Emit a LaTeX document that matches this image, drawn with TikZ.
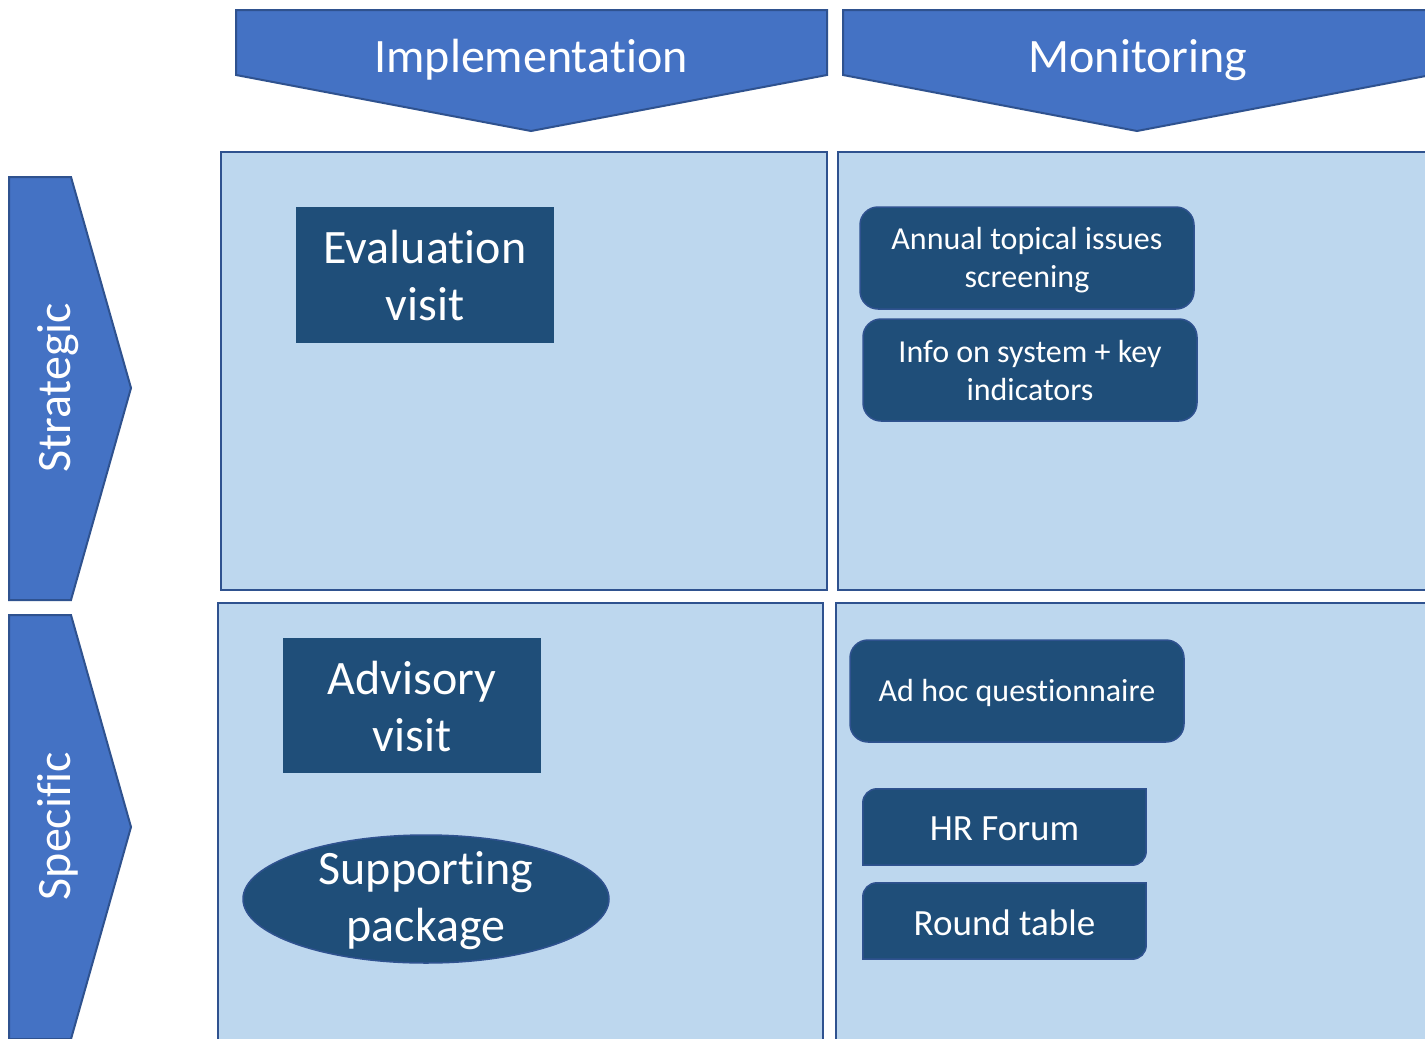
\documentclass[tikz,border=0pt]{standalone}
\usepackage{fontspec}
\setmainfont{Carlito}[Ligatures={NoCommon},RawFeature=-liga]
\usetikzlibrary{shapes.geometric,calc}
\definecolor{hdr}{HTML}{4472C4}
\definecolor{edgec}{HTML}{2F528F}
\definecolor{panelc}{HTML}{BDD7EE}
\definecolor{darkc}{HTML}{1F4E79}
\begin{document}
\begin{tikzpicture}[x=1pt,y=-1pt,
  chev/.style={fill=hdr,draw=edgec,line width=2pt,line join=miter},
  panelbox/.style={fill=panelc,draw=edgec,line width=2pt},
  bigtext/.style={text=white,font=\fontsize{48}{57}\selectfont,align=center,inner sep=0pt},
  darkrect/.style={fill=darkc,inner sep=0pt},
  darkround/.style={fill=darkc,draw=edgec,line width=1.5pt,rounded corners=18pt,inner sep=0pt},
  smalltext/.style={text=white,font=\fontsize{32}{38}\selectfont,align=center,inner sep=0pt},
  snipbox/.style={fill=darkc,draw=edgec,line width=1.5pt},
  snipnode/.style={text=white,font=\fontsize{37}{44}\selectfont,align=center,inner sep=0pt}
]
\useasboundingbox (0,0) rectangle (1425,1039);
\clip (0,0) rectangle (1425,1039);
\fill[white] (0,0) rectangle (1425,1039);

% column headers
\draw[chev] (236,10) -- (827,10) -- (827,75) -- (531,131) -- (236,75) -- cycle;
\node[bigtext] (impl) at (531,60) {Implementation};
\draw[chev] (843,10) -- (1431,10) -- (1431,75) -- (1137,131) -- (843,75) -- cycle;
\node[bigtext] (mon) at (1138,60) {Monitoring};

% row headers
\draw[chev] (9,177) -- (71,177) -- (131,388) -- (71,600) -- (9,600) -- cycle;
\node[bigtext,rotate=90] (strat) at (58,388) {Strategic};
\draw[chev] (9,615) -- (71,615) -- (131,827) -- (71,1039) -- (9,1039) -- cycle;
\node[bigtext,rotate=90] (spec) at (58,826) {Specific};

% panels
\draw[panelbox] (221,152) rectangle (827,590);
\draw[panelbox] (838,152) rectangle (1432,590);
\draw[panelbox] (218,603) rectangle (823,1046);
\draw[panelbox] (836,603) rectangle (1432,1046);

% implementation items
\node[darkrect,minimum width=258pt,minimum height=136pt] (eval) at (425,275) {};
\node[bigtext] (evalt) at ($(eval.center)+(0,1)$) {Evaluation\\visit};
\node[darkrect,minimum width=258pt,minimum height=135pt] (adv) at (412,705.5) {};
\node[bigtext] (advt) at ($(adv.center)+(0,1)$) {Advisory\\visit};
\node[darkrect,draw=edgec,line width=1.5pt,ellipse,minimum width=366pt,minimum height=128pt] (supp) at (426,899) {};
\node[bigtext] (suppt) at ($(supp.center)+(0,2)$) {Supporting\\package};

% monitoring items
\node[darkround,minimum width=334pt,minimum height=102pt] (annual) at (1027,258) {};
\node[smalltext] (annualt) at ($(annual.center)+(0,2)$) {Annual topical issues\\screening};
\node[darkround,minimum width=334pt,minimum height=102pt] (info) at (1030,370) {};
\node[smalltext] (infot) at ($(info.center)+(0,1)$) {Info on system + key\\indicators};
\node[darkround,minimum width=334pt,minimum height=102pt] (adhoc) at (1017,691) {};
\node[smalltext] (adhoct) at ($(adhoc.center)+(0,2)$) {Ad hoc questionnaire};

\node[minimum width=283pt,minimum height=76pt,inner sep=0pt] (hrbox) at (1004.5,827) {};
\draw[snipbox] ($(hrbox.north west)+(0,14)$) arc[start angle=180,end angle=270,radius=14]
  -- (hrbox.north east) -- ($(hrbox.south east)+(0,-14)$) arc[start angle=0,end angle=90,radius=14]
  -- (hrbox.south west) -- cycle;
\node[snipnode] (hr) at ($(hrbox.center)+(0,2)$) {HR Forum};

\node[minimum width=283pt,minimum height=76pt,inner sep=0pt] (rtbox) at (1004.5,921) {};
\draw[snipbox] ($(rtbox.north west)+(0,14)$) arc[start angle=180,end angle=270,radius=14]
  -- (rtbox.north east) -- ($(rtbox.south east)+(0,-14)$) arc[start angle=0,end angle=90,radius=14]
  -- (rtbox.south west) -- cycle;
\node[snipnode] (rt) at ($(rtbox.center)+(0,2)$) {Round table};
\end{tikzpicture}
\end{document}
